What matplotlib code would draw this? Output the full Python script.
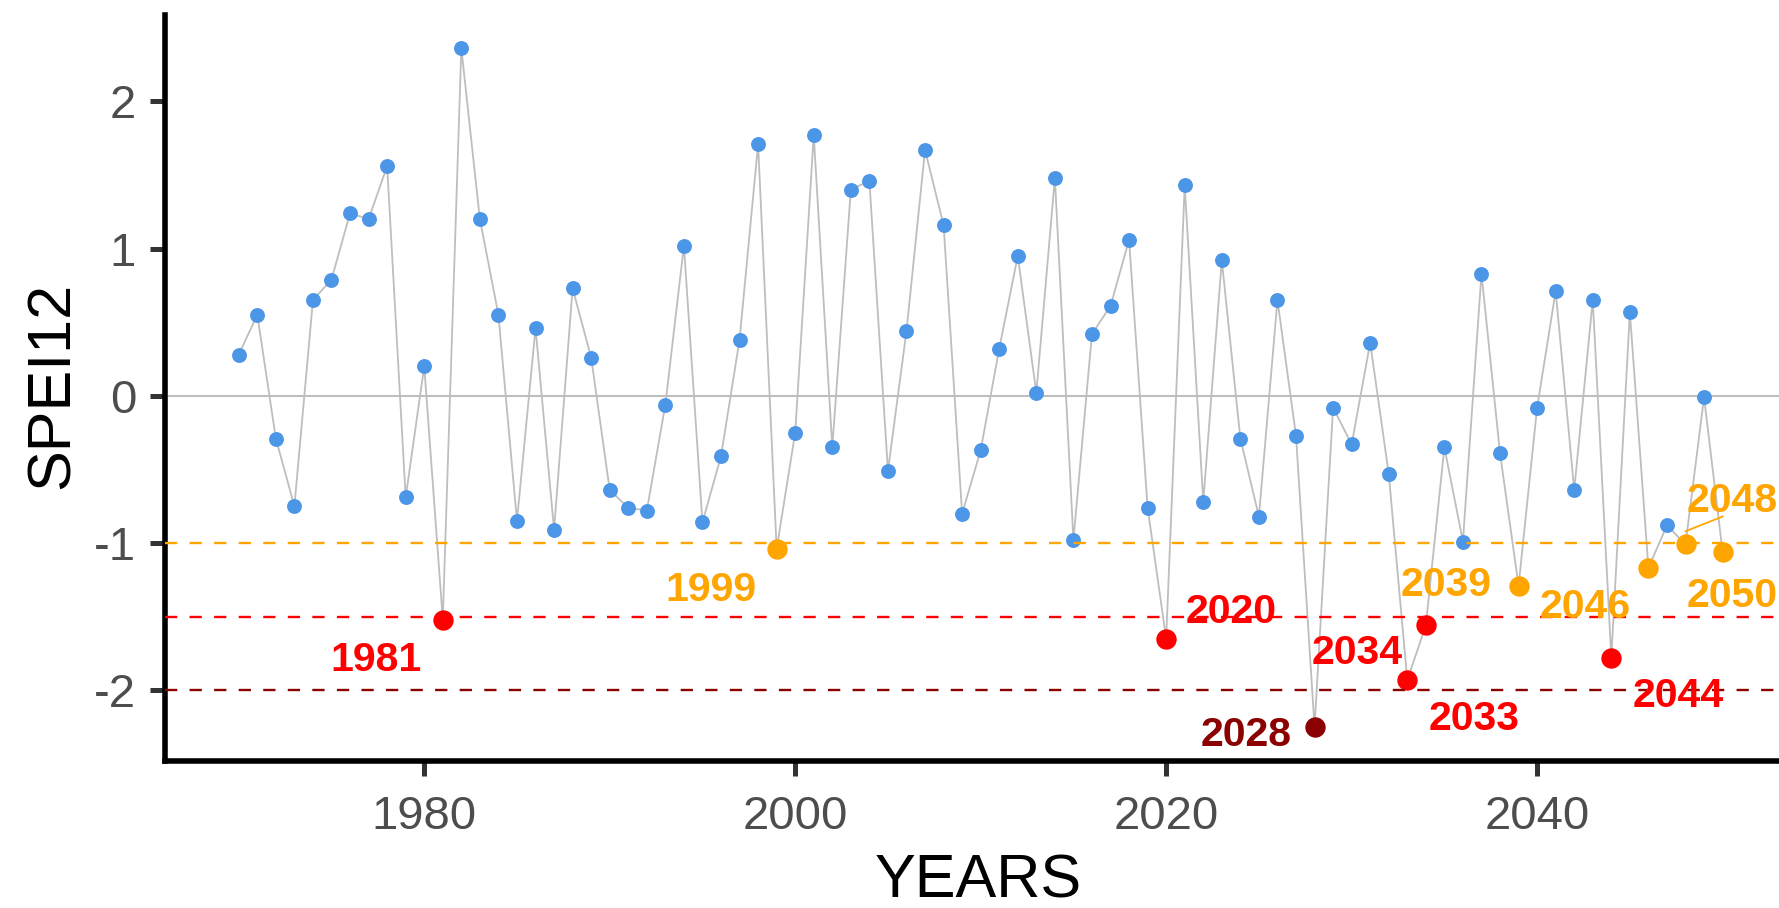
import matplotlib
matplotlib.use("Agg")
import matplotlib.pyplot as plt
import numpy as np

plt.rcParams['font.family'] = ['Liberation Sans', 'DejaVu Sans']

# SPEI-12 yearly series, observed + projected
years = list(range(1970, 2051))
spei12 = [
    0.28, 0.55, -0.29, -0.75, 0.65, 0.79, 1.24, 1.20, 1.56, -0.69,   # 1970s
    0.20, -1.52, 2.36, 1.20, 0.55, -0.85, 0.46, -0.91, 0.73, 0.26,   # 1980s
    -0.64, -0.76, -0.78, -0.06, 1.02, -0.86, -0.41, 0.38, 1.71, -1.04,  # 1990s
    -0.25, 1.77, -0.35, 1.40, 1.46, -0.51, 0.44, 1.67, 1.16, -0.80,  # 2000s
    -0.37, 0.32, 0.95, 0.02, 1.48, -0.98, 0.42, 0.61, 1.06, -0.76,   # 2010s
    -1.65, 1.43, -0.72, 0.92, -0.29, -0.82, 0.65, -0.27, -2.25, -0.08,  # 2020s
    -0.33, 0.36, -0.53, -1.93, -1.56, -0.35, -0.99, 0.83, -0.39, -1.29,  # 2030s
    -0.08, 0.71, -0.64, 0.65, -1.78, 0.57, -1.17, -0.88, -1.01, -0.01,  # 2040s
    -1.06,
]

# drought class thresholds: moderate, severe, extreme
thresholds = [-1.0, -1.5, -2.0]
threshold_colors = ['#FFA500', '#FF0000', '#8B0000']
normal_color = '#4C96E8'

# where each drought-year label sits relative to its point (years, SPEI units)
label_offsets = {
    1981: (-3.6, -0.245),
    1999: (-3.55, -0.25),
    2020: (3.5, 0.21),
    2028: (-3.7, -0.025),
    2033: (3.62, -0.24),
    2034: (-3.68, -0.16),
    2039: (-3.92, 0.034),
    2044: (3.6, -0.23),
    2046: (-3.43, -0.24),
    2048: (2.5, 0.32),
    2050: (0.5, -0.27),
}


def drought_color(v):
    if v <= -2.0:
        return threshold_colors[2]
    if v <= -1.5:
        return threshold_colors[1]
    if v <= -1.0:
        return threshold_colors[0]
    return None


fig = plt.figure(figsize=(17.79, 9.08), dpi=100)
ax = fig.add_axes([0.0925, 0.162, 0.9175, 0.822])

x = np.array(years)
y = np.array(spei12)

ax.plot(x, y, color='#BEBEBE', lw=1.3, zorder=2)

normal = [drought_color(v) is None for v in spei12]
ax.scatter(x[normal], y[normal], s=115, color=normal_color, zorder=3, linewidths=0)

for yr, v in zip(years, spei12):
    c = drought_color(v)
    if c is None:
        continue
    ax.scatter([yr], [v], s=215, color=c, zorder=4, linewidths=0)
    dx, dy = label_offsets[yr]
    ax.text(yr + dx, v + dy, str(yr), color=c, fontsize=29.5, fontweight='bold',
            ha='center', va='center_baseline', zorder=6)
    if yr == 2048:
        # leader line from the point up to its label
        ax.plot([yr, yr + 2.0], [v + 0.09, v + 0.19], color=c, lw=1.3, zorder=5)

ax.axhline(0, color='#BEBEBE', lw=1.5, zorder=2.5)
for t, c in zip(thresholds, threshold_colors):
    ax.axhline(t, color=c, lw=1.7, linestyle=(0, (5.2, 5.2)), zorder=5)

ax.set_xlim(1966, 2054)
ax.set_ylim(-2.48, 2.59)
ax.set_xticks([1980, 2000, 2020, 2040])
ax.set_yticks([-2, -1, 0, 1, 2])
ax.set_yticklabels(['-2', '-1', '0', '1', '2'])

for side in ['top', 'right']:
    ax.spines[side].set_visible(False)
for side in ['left', 'bottom']:
    ax.spines[side].set_linewidth(4.0)
    ax.spines[side].set_color('black')

ax.tick_params(axis='both', length=10.5, width=3.6, color='#333333',
               labelsize=34, labelcolor='#4D4D4D')
ax.tick_params(axis='x', pad=14)
ax.tick_params(axis='y', pad=10)

ax.set_xlabel('YEARS', fontsize=44)
ax.set_ylabel('SPEI12', fontsize=44)
ax.xaxis.set_label_coords(0.4985, -0.1245)
ax.yaxis.set_label_coords(-0.0506, 0.5035)

fig.savefig('out.png', dpi=100)
